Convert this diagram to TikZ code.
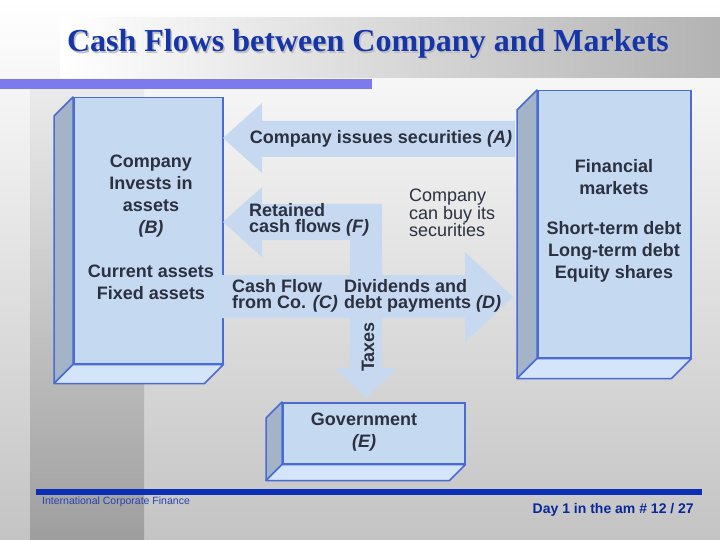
\documentclass[tikz,border=0pt]{standalone}
\usepackage{fontspec}
\setmainfont{Liberation Sans}
\newfontfamily\titlefont{Liberation Serif}
\definecolor{arrowfill}{HTML}{C6D9F1}
\definecolor{boxfront}{HTML}{C5D9F1}
\definecolor{boxside}{HTML}{A3B3C8}
\definecolor{boxbottom}{HTML}{D4E4F9}
\definecolor{boxedge}{HTML}{4A6BD6}
\definecolor{txt}{HTML}{2B3140}
\definecolor{titleblue}{HTML}{1535A8}
\definecolor{barpurple}{HTML}{7B7BEF}
\definecolor{footblue}{HTML}{0A2FB5}
\definecolor{foottext}{HTML}{2443B0}
\definecolor{bggray}{HTML}{C4C4C4}
\definecolor{stripgray}{HTML}{9E9E9E}
\begin{document}
\begin{tikzpicture}[x=1pt,y=-1pt,
  front/.style={draw=boxedge, line width=1.5pt, fill=boxfront, inner sep=0pt, anchor=north west},
  sideface/.style={draw=boxedge, line width=1.5pt, fill=boxside, line join=round},
  bottomface/.style={draw=boxedge, line width=1.5pt, fill=boxbottom, line join=round},
  blockarrow/.style={fill=arrowfill, draw=none},
  lbl/.style={text=txt, font=\fontsize{18}{15.5}\selectfont\bfseries, align=left, inner sep=0pt, anchor=west},
  lblreg/.style={text=txt, font=\fontsize{18}{15}\selectfont, align=left, inner sep=0pt, anchor=west},
  boxtxt/.style={text=txt, font=\fontsize{18}{22}\selectfont\bfseries, align=center, inner sep=0pt}]
\useasboundingbox (0,0) rectangle (720,540);
% background
\shade[top color=white, bottom color=bggray] (0,0) rectangle (720,540);
\shade[top color=white!92!black, bottom color=stripgray] (30,89) rectangle (144,540);
\shade[left color=white, right color=black!30] (60,18) rectangle (720,78);
\fill[barpurple] (0,79) rectangle (372,89);
% title
\node[text=black!25, font=\titlefont\fontsize{32}{36}\selectfont\bfseries] at (369.5,45.5) {Cash Flows between Company and Markets};
\node (title) [text=titleblue, font=\titlefont\fontsize{32}{36}\selectfont\bfseries] at (368,44) {Cash Flows between Company and Markets};
% left box (company)
\node (comp) [front, minimum width=149pt, minimum height=266pt] at (73,97) {};
\draw[sideface] (comp.north west) -- ++(-19,19) -- ([shift={(-19,19)}]comp.south west) -- (comp.south west) -- cycle;
\draw[bottomface] (comp.south west) -- (comp.south east) -- ++(-19,19) -- ([shift={(-19,19)}]comp.south west) -- cycle;
% right box (markets)
\node (mkt) [front, minimum width=153pt, minimum height=267pt] at (537,90) {};
\draw[sideface] (mkt.north west) -- ++(-20,20) -- ([shift={(-20,20)}]mkt.south west) -- (mkt.south west) -- cycle;
\draw[bottomface] (mkt.south west) -- (mkt.south east) -- ++(-20,20) -- ([shift={(-20,20)}]mkt.south west) -- cycle;
% government box
\node (gov) [front, minimum width=182pt, minimum height=61pt] at (282,402) {};
\draw[sideface] (gov.north west) -- ++(-16,16) -- ([shift={(-16,16)}]gov.south west) -- (gov.south west) -- cycle;
\draw[bottomface] (gov.south west) -- (gov.south east) -- ++(-16,16) -- ([shift={(-16,16)}]gov.south west) -- cycle;
% block arrows
\coordinate (atip) at (223,138);
\coordinate (ftip) at (223,222);
\coordinate (dtip) at (513,297);
\coordinate (ttip) at (366,398);
\fill[blockarrow] (515,121) -- (262,121) -- (262,103) -- (atip) -- (262,173) -- (262,157) -- (515,157) -- cycle;
\fill[blockarrow] (ftip) -- (262,187) -- (262,204) -- (382,204) -- (382,368) -- (397,368) -- (ttip) -- (335,368) -- (350,368) -- (350,240) -- (262,240) -- (262,257) -- cycle;
\fill[blockarrow] (220,275) -- (465,275) -- (465,252) -- (dtip) -- (465,342) -- (465,318) -- (220,318) -- cycle;
% texts
\node (lA) [text=txt, font=\fontsize{18}{15}\selectfont\bfseries, inner sep=0pt] at (381,139) {Company issues securities \textit{(A)}};
\node (lF) [lbl] at (249,220) {Retained\\cash flows \textit{(F)}};
\node (lbuy) [lblreg] at (409,213) {Company\\can buy its\\securities};
\node (lC) [lbl] at (232,296) {Cash Flow\\from Co. \textit{(C)}};
\node (lD) [lbl] at (344,296) {Dividends and\\debt payments \textit{(D)}};
\node (lT) [text=txt, font=\fontsize{18}{15}\selectfont\bfseries, inner sep=0pt, rotate=90] at (368,347) {Taxes};
\node (tcomp) [boxtxt] at (151,196) {Company\\Invests in\\assets\\\textit{(B)}};
\node (tassets) [boxtxt] at (151,282) {Current assets\\Fixed assets};
\node (tmkt) [boxtxt] at (614,177) {Financial\\markets};
\node (tsec) [boxtxt] at (614,252) {Short-term debt\\Long-term debt\\Equity shares};
\node (tgov) [boxtxt] at (364,432) {Government\\\textit{(E)}};
% footer
\fill[footblue] (36,489) rectangle (702,495);
\node (foot1) [text=foottext, font=\fontsize{10.5}{12}\selectfont, anchor=west, inner sep=0pt] at (42,502) {International Corporate Finance};
\node (foot2) [text=footblue!85!black, font=\fontsize{14}{16}\selectfont\bfseries, anchor=east, inner sep=0pt] at (694,510) {Day 1 in the am \# 12 / 27};
\end{tikzpicture}
\end{document}
